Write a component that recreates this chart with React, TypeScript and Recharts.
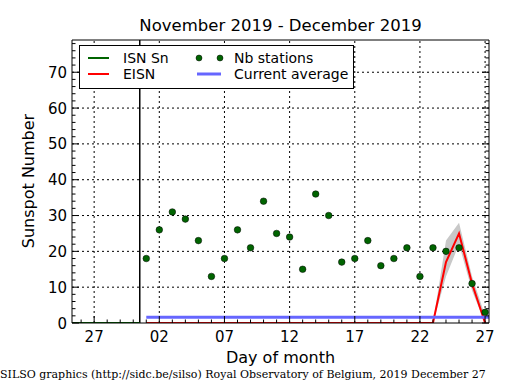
import React from "react";
import { ComposedChart, Line, Area, Scatter, XAxis, YAxis, ReferenceLine } from "recharts";

// day index: Nov 30 = 0, Dec d = d
const DAYS = [1, 2, 3, 4, 5, 6, 7, 8, 9, 10, 11, 12, 13, 14, 15, 16, 17, 18, 19, 20, 21, 22, 23, 24, 25, 26, 27];
const NB_STATIONS = [18, 26, 31, 29, 23, 13, 18, 26, 21, 34, 25, 24, 15, 36, 30, 17, 18, 23, 16, 18, 21, 13, 21, 20, 21, 11, 3];
const EISN = [0, 0, 0, 0, 0, 0, 0, 0, 0, 0, 0, 0, 0, 0, 0, 0, 0, 0, 0, 0, 0, 0, 0, 17, 25, 11, 0];
const BAND_DAYS = [23, 24, 25, 26, 27];
const BAND_LOW = [0, 13, 22, 9, 0];
const BAND_HIGH = [0, 23, 28, 13, 2];
const ISN_DAYS = [-5, 0.5];
const ISN = [0, 0];
const AVG_DAYS = [1, 31];
const AVG = [1.6, 1.6];
const MONTH_BOUNDARY = 0.5;

const X_TICKS = [-3, 2, 7, 12, 17, 22, 27];
const X_TICK_LABELS = ["27", "02", "07", "12", "17", "22", "27"];
const Y_TICKS = [0, 10, 20, 30, 40, 50, 60, 70];
const X_DOMAIN = [-4.7, 27.3];
const Y_DOMAIN = [0, 79];

const X_MINOR: number[] = [];
for (let d = -4; d <= 27; d++) X_MINOR.push(d);
const Y_MINOR: number[] = [];
for (let v = 0; v <= 78; v += 2) Y_MINOR.push(v);

const stationData = DAYS.map((day, i) => ({ day, value: NB_STATIONS[i] }));
const eisnData = DAYS.map((day, i) => ({ day, value: EISN[i] }));
const bandData = BAND_DAYS.map((day, i) => ({ day, band: [BAND_LOW[i], BAND_HIGH[i]] }));
const isnData = ISN_DAYS.map((day, i) => ({ day, value: ISN[i] }));
const avgData = AVG_DAYS.map((day, i) => ({ day, value: AVG[i] }));

const MAJOR = 7;
const MINOR = 3.5;
const TICK_FONT = 15;

function BottomTick(props: any) {
  const { x, y, payload } = props;
  const i = X_TICKS.indexOf(payload.value);
  return (
    <g>
      <line x1={x} x2={x} y1={y} y2={y - (i >= 0 ? MAJOR : MINOR)} stroke="#000" />
      {i >= 0 && (
        <text x={x} y={y + 19} textAnchor="middle" fontSize={TICK_FONT} fill="#000">
          {X_TICK_LABELS[i]}
        </text>
      )}
    </g>
  );
}

function TopTick(props: any) {
  const { x, y, payload } = props;
  const major = X_TICKS.includes(payload.value);
  return <line x1={x} x2={x} y1={y} y2={y + (major ? MAJOR : MINOR)} stroke="#000" />;
}

function LeftTick(props: any) {
  const { x, y, payload } = props;
  const major = Y_TICKS.includes(payload.value);
  return (
    <g>
      <line x1={x} x2={x + (major ? MAJOR : MINOR)} y1={y} y2={y} stroke="#000" />
      {major && (
        <text x={x - 5} y={y + 5.5} textAnchor="end" fontSize={TICK_FONT} fill="#000">
          {payload.value}
        </text>
      )}
    </g>
  );
}

function RightTick(props: any) {
  const { x, y, payload } = props;
  const major = Y_TICKS.includes(payload.value);
  return <line x1={x} x2={x - (major ? MAJOR : MINOR)} y1={y} y2={y} stroke="#000" />;
}

const dot = (props: any) => (
  <circle cx={props.cx} cy={props.cy} r={3.3} fill="#006400" stroke="#000" strokeWidth={0.5} />
);

export default function App() {
  const font = "'DejaVu Sans', sans-serif";
  return (
    <div style={{ position: "absolute", left: 0, top: 0, width: 515, height: 390, background: "#fff" }}>
      <ComposedChart
        width={515}
        height={390}
        margin={{ top: 39, right: 25, bottom: 66, left: 71 }}
        style={{ fontFamily: font }}
      >
        <XAxis
          xAxisId="b"
          type="number"
          dataKey="day"
          domain={X_DOMAIN}
          allowDataOverflow
          ticks={X_MINOR}
          interval={0}
          height={1}
          tickSize={0}
          tickMargin={0}
          tick={BottomTick}
          tickLine={false}
          axisLine={{ stroke: "#000" }}
        />
        <XAxis
          xAxisId="t"
          orientation="top"
          type="number"
          domain={X_DOMAIN}
          allowDataOverflow
          ticks={X_MINOR}
          interval={0}
          height={1}
          tickSize={0}
          tickMargin={0}
          tick={TopTick}
          tickLine={false}
          axisLine={{ stroke: "#000" }}
        />
        <YAxis
          yAxisId="l"
          type="number"
          domain={Y_DOMAIN}
          allowDataOverflow
          ticks={Y_MINOR}
          interval={0}
          width={1}
          tickSize={0}
          tickMargin={0}
          tick={LeftTick}
          tickLine={false}
          axisLine={{ stroke: "#000" }}
        />
        <YAxis
          yAxisId="r"
          orientation="right"
          type="number"
          domain={Y_DOMAIN}
          allowDataOverflow
          ticks={Y_MINOR}
          interval={0}
          width={1}
          tickSize={0}
          tickMargin={0}
          tick={RightTick}
          tickLine={false}
          axisLine={{ stroke: "#000" }}
        />
        {X_TICKS.map((t) => (
          <ReferenceLine key={"gx" + t} x={t} xAxisId="b" yAxisId="l" stroke="#000" strokeDasharray="2 3" />
        ))}
        {Y_TICKS.slice(1).map((t) => (
          <ReferenceLine key={"gy" + t} y={t} xAxisId="b" yAxisId="l" stroke="#000" strokeDasharray="2 3" />
        ))}
        <ReferenceLine x={MONTH_BOUNDARY} xAxisId="b" yAxisId="l" stroke="#000" strokeWidth={1.5} />
        <Area
          data={bandData}
          xAxisId="b"
          yAxisId="l"
          dataKey="band"
          type="linear"
          fill="#c8c8c8"
          fillOpacity={1}
          stroke="none"
          isAnimationActive={false}
        />
        <Line
          data={isnData}
          xAxisId="b"
          yAxisId="l"
          dataKey="value"
          type="linear"
          stroke="#006400"
          strokeWidth={2}
          dot={false}
          isAnimationActive={false}
        />
        <Line
          data={eisnData}
          xAxisId="b"
          yAxisId="l"
          dataKey="value"
          type="linear"
          stroke="#ff0000"
          strokeWidth={2}
          dot={false}
          isAnimationActive={false}
        />
        <Line
          data={avgData}
          xAxisId="b"
          yAxisId="l"
          dataKey="value"
          type="linear"
          stroke="#6666ff"
          strokeWidth={3}
          dot={false}
          isAnimationActive={false}
        />
        <Scatter
          data={stationData}
          xAxisId="b"
          yAxisId="l"
          dataKey="value"
          shape={dot}
          isAnimationActive={false}
        />
      </ComposedChart>
      <svg
        width={515}
        height={390}
        style={{ position: "absolute", left: 0, top: 0, pointerEvents: "none", fontFamily: font }}
      >
        <text x={280.5} y={31} textAnchor="middle" fontSize={16.5} fill="#000">
          November 2019 - December 2019
        </text>
        <text x={280.5} y={363} textAnchor="middle" fontSize={16} fill="#000">
          Day of month
        </text>
        <text
          x={0}
          y={0}
          transform="translate(34,181) rotate(-90)"
          textAnchor="middle"
          fontSize={16}
          fill="#000"
        >
          Sunspot Number
        </text>
        <text x={0} y={378} fontSize={11} fill="#000" style={{ fontFamily: "'DejaVu Serif', serif" }}>
          SILSO graphics (http://sidc.be/silso) Royal Observatory of Belgium, 2019 December 27
        </text>
        <rect x={79.5} y={45.5} width={274} height={43} fill="#fff" stroke="#000" strokeWidth={1} />
        <line x1={88} x2={109} y1={58} y2={58} stroke="#006400" strokeWidth={2} />
        <text x={123} y={63} fontSize={14} fill="#000">ISN Sn</text>
        <line x1={88} x2={109} y1={74} y2={74} stroke="#ff0000" strokeWidth={2} />
        <text x={123} y={79} fontSize={14} fill="#000">EISN</text>
        <circle cx={199} cy={58} r={3} fill="#006400" stroke="#000" strokeWidth={0.5} />
        <circle cx={220} cy={58} r={3} fill="#006400" stroke="#000" strokeWidth={0.5} />
        <text x={234} y={63} fontSize={14} fill="#000">Nb stations</text>
        <line x1={197} x2={221} y1={74} y2={74} stroke="#6666ff" strokeWidth={3} />
        <text x={234} y={79} fontSize={14} fill="#000">Current average</text>
      </svg>
    </div>
  );
}
